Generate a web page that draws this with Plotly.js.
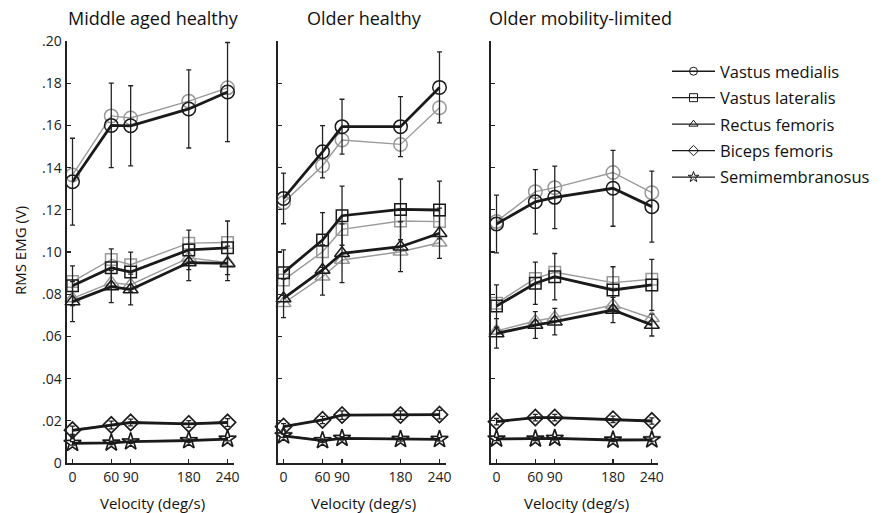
<!DOCTYPE html>
<html>
<head>
<meta charset="utf-8">
<script src="https://cdn.plot.ly/plotly-3.0.1.min.js"></script>
<style>html,body{margin:0;padding:0;background:#fff;}#chart{width:882px;height:513px;}</style>
</head>
<body>
<div id="chart"></div>
<script>
// ---- Data ----
const velocity = [0, 60, 90, 180, 240];
const groups = ["Middle aged healthy", "Older healthy", "Older mobility-limited"];
const muscles = ["Vastus medialis", "Vastus lateralis", "Rectus femoris", "Biceps femoris", "Semimembranosus"];
const yTickVals = [0, 0.02, 0.04, 0.06, 0.08, 0.10, 0.12, 0.14, 0.16, 0.18, 0.20];
const yTickText = ["0", ".02", ".04", ".06", ".08", ".10", ".12", ".14", ".16", ".18", ".20"];

// Middle aged healthy
const mahVMblack = [0.1333, 0.1600, 0.1598, 0.1678, 0.1758];
const mahVMgray  = [0.1365, 0.1645, 0.1635, 0.1715, 0.1778];
const mahVMerr   = [0.0206, 0.0200, 0.0190, 0.0185, 0.0235];
const mahVLblack = [0.0840, 0.0925, 0.0905, 0.1010, 0.1020];
const mahVLgray  = [0.0860, 0.0965, 0.0940, 0.1042, 0.1045];
const mahVLerr   = [0.0094, 0.0090, 0.0094, 0.0094, 0.0127];
const mahRFblack = [0.0765, 0.0836, 0.0822, 0.0950, 0.0946];
const mahRFgray  = [0.0780, 0.0855, 0.0845, 0.0972, 0.0950];
const mahRFerr   = [0.0095, 0.0076, 0.0073, 0.0086, 0.0082];
const mahBFblack = [0.0155, 0.0180, 0.0192, 0.0185, 0.0192];
const mahBFgray  = [0.0158, 0.0182, 0.0193, 0.0186, 0.0194];
const mahBFerr   = [0.0020, 0.0018, 0.0016, 0.0016, 0.0018];
const mahSMblack = [0.0093, 0.0095, 0.0101, 0.0106, 0.0113];
const mahSMgray  = [0.0095, 0.0097, 0.0102, 0.0108, 0.0115];
const mahSMerr   = [0.0008, 0.0008, 0.0008, 0.0008, 0.0008];

// Older healthy
const ohVMblack = [0.1254, 0.1475, 0.1594, 0.1594, 0.1780];
const ohVMgray  = [0.1234, 0.1409, 0.1531, 0.1510, 0.1684];
const ohVMerr   = [0.0120, 0.0124, 0.0130, 0.0142, 0.0168];
const ohVLblack = [0.0902, 0.1057, 0.1172, 0.1202, 0.1199];
const ohVLgray  = [0.0867, 0.1001, 0.1107, 0.1147, 0.1144];
const ohVLerr   = [0.0108, 0.0130, 0.0140, 0.0144, 0.0137];
const ohRFblack = [0.0780, 0.0915, 0.0994, 0.1025, 0.1089];
const ohRFgray  = [0.0757, 0.0883, 0.0962, 0.1001, 0.1044];
const ohRFerr   = [0.0091, 0.0119, 0.0139, 0.0118, 0.0119];
const ohBFblack = [0.0172, 0.0204, 0.0227, 0.0227, 0.0229];
const ohBFgray  = [0.0175, 0.0206, 0.0228, 0.0228, 0.0230];
const ohBFerr   = [0.0015, 0.0017, 0.0020, 0.0020, 0.0020];
const ohSMblack = [0.0129, 0.0106, 0.0117, 0.0112, 0.0112];
const ohSMgray  = [0.0131, 0.0108, 0.0118, 0.0113, 0.0113];
const ohSMerr   = [0.0008, 0.0008, 0.0008, 0.0008, 0.0008];

// Older mobility-limited
const omlVMblack = [0.1133, 0.1238, 0.1259, 0.1302, 0.1215];
const omlVMgray  = [0.1144, 0.1286, 0.1305, 0.1377, 0.1281];
const omlVMerr   = [0.0137, 0.0152, 0.0148, 0.0180, 0.0168];
const omlVLblack = [0.0744, 0.0852, 0.0883, 0.0820, 0.0844];
const omlVLgray  = [0.0757, 0.0875, 0.0904, 0.0855, 0.0871];
const omlVLerr   = [0.0100, 0.0100, 0.0110, 0.0110, 0.0121];
const omlRFblack = [0.0614, 0.0654, 0.0670, 0.0725, 0.0654];
const omlRFgray  = [0.0626, 0.0673, 0.0690, 0.0749, 0.0686];
const omlRFerr   = [0.0070, 0.0063, 0.0063, 0.0060, 0.0052];
const omlBFblack = [0.0196, 0.0215, 0.0215, 0.0207, 0.0199];
const omlBFgray  = [0.0198, 0.0217, 0.0217, 0.0209, 0.0201];
const omlBFerr   = [0.0015, 0.0015, 0.0015, 0.0015, 0.0015];
const omlSMblack = [0.0114, 0.0114, 0.0117, 0.0109, 0.0110];
const omlSMgray  = [0.0116, 0.0116, 0.0118, 0.0111, 0.0112];
const omlSMerr   = [0.0008, 0.0008, 0.0008, 0.0008, 0.0008];

// ---- Build traces ----
const FONT = '"Open Sans", "Noto Sans", sans-serif';
const BLACK = '#1a1a1a';
const GRAY = '#9a9a9a';
const symbols = ['circle-open', 'square-open', 'triangle-up-open', 'diamond-open', 'star-open'];
const sizes = [13.5, 11.5, 13, 12.5, 13];

const panelData = [
  [[mahVMblack, mahVMgray, mahVMerr], [mahVLblack, mahVLgray, mahVLerr], [mahRFblack, mahRFgray, mahRFerr], [mahBFblack, mahBFgray, mahBFerr], [mahSMblack, mahSMgray, mahSMerr]],
  [[ohVMblack, ohVMgray, ohVMerr], [ohVLblack, ohVLgray, ohVLerr], [ohRFblack, ohRFgray, ohRFerr], [ohBFblack, ohBFgray, ohBFerr], [ohSMblack, ohSMgray, ohSMerr]],
  [[omlVMblack, omlVMgray, omlVMerr], [omlVLblack, omlVLgray, omlVLerr], [omlRFblack, omlRFgray, omlRFerr], [omlBFblack, omlBFgray, omlBFerr], [omlSMblack, omlSMgray, omlSMerr]]
];

const traces = [];
panelData.forEach((panel, p) => {
  const xa = p === 0 ? 'x' : 'x' + (p + 1);
  const ya = p === 0 ? 'y' : 'y' + (p + 1);
  // gray first (underneath)
  panel.forEach((m, i) => {
    traces.push({
      x: velocity, y: m[1], xaxis: xa, yaxis: ya, type: 'scatter', mode: 'lines+markers',
      showlegend: false, cliponaxis: false, hoverinfo: 'skip',
      line: {color: GRAY, width: 1.4},
      marker: {symbol: symbols[i], size: sizes[i], color: GRAY, line: {color: GRAY, width: 1.5}}
    });
  });
  panel.forEach((m, i) => {
    traces.push({
      x: velocity, y: m[0], xaxis: xa, yaxis: ya, type: 'scatter', mode: 'lines+markers',
      showlegend: false, cliponaxis: false, name: muscles[i] + ' (' + groups[p] + ')',
      line: {color: BLACK, width: 2.8},
      marker: {symbol: symbols[i], size: sizes[i], color: BLACK, line: {color: BLACK, width: 1.5}},
      error_y: {type: 'data', array: m[2], visible: true, color: '#222', thickness: 1.3, width: 2.5}
    });
  });
});
// legend entries
muscles.forEach((name, i) => {
  traces.push({
    x: [null], y: [null], xaxis: 'x3', yaxis: 'y3', type: 'scatter', mode: 'lines+markers',
    name: name, legendgroup: 'g' + i, showlegend: true,
    line: {color: BLACK, width: 1.3},
    marker: {symbol: symbols[i], size: 8, color: BLACK, line: {color: BLACK, width: 1}}
  });
});

const W = 882, H = 513;
const yDom = [(H - 463) / H, (H - 41) / H];
const panelPx = [[66.7, 234], [277.7, 446], [490.7, 658.3]];
const xRange = [-9, 250];

function xAxis(p) {
  return {
    domain: [panelPx[p][0] / W, panelPx[p][1] / W], range: xRange, anchor: p === 0 ? 'y' : 'y' + (p + 1),
    tickvals: velocity, ticktext: velocity.map(String), ticks: 'inside', ticklen: 4, tickwidth: 1.3, tickcolor: '#222',
    showline: true, linewidth: 2, linecolor: '#222', showgrid: false, zeroline: false, mirror: false,
    tickfont: {family: FONT, size: 14, color: '#222'}, fixedrange: true
  };
}
function yAxis(p) {
  return {
    domain: yDom, range: [0, 0.2], anchor: p === 0 ? 'x' : 'x' + (p + 1),
    tickvals: yTickVals, ticktext: yTickText, showticklabels: p === 0,
    ticks: 'inside', ticklen: 4, tickwidth: 1.3, tickcolor: '#222',
    showline: true, linewidth: 2.2, linecolor: '#222', showgrid: false, zeroline: false,
    tickfont: {family: FONT, size: 14, color: '#222'}, fixedrange: true
  };
}

const annotations = [];
const titleX = [153, 364.7, 580];
groups.forEach((g, p) => {
  annotations.push({text: g, xref: 'paper', yref: 'paper', x: titleX[p] / W, y: (H - 18) / H,
    xanchor: 'center', yanchor: 'middle', showarrow: false, font: {family: FONT, size: 18, color: '#111'}});
  annotations.push({text: 'Velocity (deg/s)', xref: 'paper', yref: 'paper',
    x: ((panelPx[p][0] + panelPx[p][1]) / 2 + 2) / W, y: (H - 503) / H,
    xanchor: 'center', yanchor: 'middle', showarrow: false, font: {family: FONT, size: 15, color: '#111'}});
});
annotations.push({text: 'RMS EMG (V)', xref: 'paper', yref: 'paper', x: 20 / W, y: (H - 251) / H,
  xanchor: 'center', yanchor: 'middle', textangle: -90, showarrow: false, font: {family: FONT, size: 15, color: '#111'}});

const layout = {
  width: W, height: H, margin: {l: 0, r: 0, t: 0, b: 0},
  paper_bgcolor: '#fff', plot_bgcolor: 'rgba(0,0,0,0)',
  xaxis: xAxis(0), yaxis: yAxis(0), xaxis2: xAxis(1), yaxis2: yAxis(1), xaxis3: xAxis(2), yaxis3: yAxis(2),
  showlegend: true,
  legend: {x: 667 / W, y: (H - 54) / H, xanchor: 'left', yanchor: 'top', bgcolor: 'rgba(0,0,0,0)',
    font: {family: FONT, size: 16.5, color: '#111'}, tracegroupgap: 2, itemwidth: 43, traceorder: 'grouped'},
  annotations: annotations
};

Plotly.newPlot('chart', traces, layout, {displayModeBar: false, staticPlot: true});
</script>
</body>
</html>
